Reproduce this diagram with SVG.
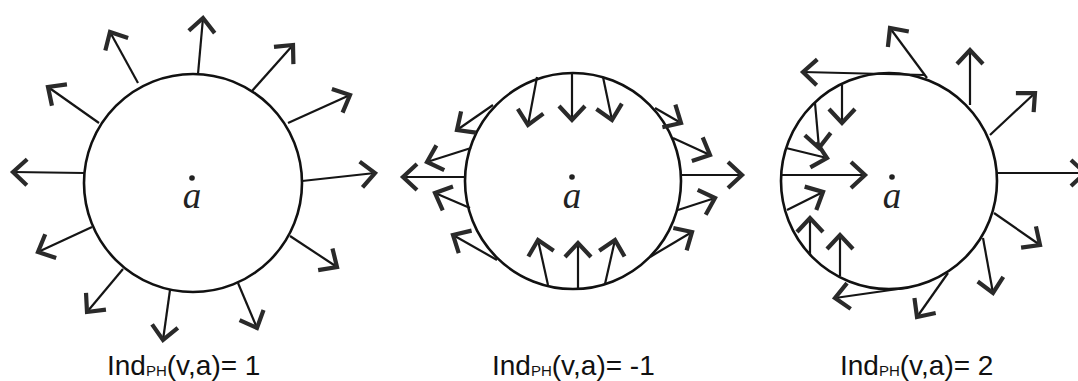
<svg xmlns="http://www.w3.org/2000/svg" width="1078" height="381" viewBox="0 0 1078 381">
<style>
.c{fill:none;stroke:#111;stroke-width:2.6}
.ar line{stroke:#151515;stroke-width:2.2;marker-end:url(#ah)}
.dot{fill:#222}
.pt{font-family:"Liberation Serif",serif;font-style:italic;font-size:37px;fill:#222;text-anchor:middle}
.lb{font-family:"Liberation Sans","DejaVu Sans",sans-serif;font-size:28px;fill:#111}
.sb{font-size:15px}
</style>
<defs>
<marker id="ah" markerUnits="userSpaceOnUse" orient="auto" markerWidth="50" markerHeight="50" viewBox="-25 -25 50 50" refX="0" refY="0">
<path d="M-14,-13 L0,0 L-14,13" fill="none" stroke="#2a2a2a" stroke-width="4.2"/>
</marker>
</defs>
<rect width="1078" height="381" fill="#fff"/>

<g id="node-panel1">
<circle class="c" cx="193" cy="183" r="109"/>
<circle class="dot" cx="192" cy="178" r="2.8"/>
<text class="pt" x="192" y="208">a</text>
</g>
<g id="node-panel2">
<circle class="c" cx="573" cy="181" r="108"/>
<circle class="dot" cx="572" cy="177" r="2.8"/>
<text class="pt" x="572" y="208">a</text>
</g>
<g id="node-panel3">
<circle class="c" cx="889" cy="181" r="108"/>
<circle class="dot" cx="892" cy="177" r="2.8"/>
<text class="pt" x="892" y="208">a</text>
</g>

<g id="connectors" class="ar">
<!-- panel 1 -->
<line x1="138" y1="83" x2="110" y2="32"/>
<line x1="198" y1="74" x2="203" y2="18"/>
<line x1="252" y1="91" x2="293" y2="45"/>
<line x1="288" y1="123" x2="350" y2="95"/>
<line x1="302" y1="181" x2="375" y2="173"/>
<line x1="290" y1="236" x2="337" y2="267"/>
<line x1="238" y1="283" x2="257" y2="328"/>
<line x1="170" y1="290" x2="163" y2="340"/>
<line x1="123" y1="269" x2="87" y2="312"/>
<line x1="92" y1="227" x2="38" y2="252"/>
<line x1="84" y1="173" x2="13" y2="172"/>
<line x1="99" y1="123" x2="48" y2="87"/>
<!-- panel 2 -->
<line x1="537" y1="77" x2="528" y2="125"/>
<line x1="572" y1="73" x2="572" y2="120"/>
<line x1="603" y1="77" x2="612" y2="120"/>
<line x1="548" y1="285" x2="538" y2="240"/>
<line x1="578" y1="289" x2="578" y2="243"/>
<line x1="605" y1="284" x2="615" y2="240"/>
<line x1="493" y1="105" x2="457" y2="130"/>
<line x1="471" y1="148" x2="427" y2="162"/>
<line x1="465" y1="177" x2="403" y2="177"/>
<line x1="470" y1="208" x2="435" y2="193"/>
<line x1="497" y1="260" x2="453" y2="235"/>
<line x1="655" y1="108" x2="681" y2="123"/>
<line x1="673" y1="138" x2="710" y2="155"/>
<line x1="681" y1="175" x2="742" y2="175"/>
<line x1="678" y1="210" x2="715" y2="198"/>
<line x1="650" y1="257" x2="692" y2="232"/>
<!-- panel 3 -->
<line x1="927" y1="78" x2="890" y2="28"/>
<line x1="925" y1="75" x2="803" y2="72"/>
<line x1="970" y1="105" x2="970" y2="50"/>
<line x1="990" y1="135" x2="1035" y2="93"/>
<line x1="997" y1="173" x2="1085" y2="173"/>
<line x1="994" y1="213" x2="1040" y2="245"/>
<line x1="983" y1="238" x2="993" y2="293"/>
<line x1="948" y1="273" x2="917" y2="317"/>
<line x1="905" y1="288" x2="835" y2="298"/>
<line x1="842" y1="85" x2="842" y2="123"/>
<line x1="815" y1="103" x2="819" y2="148"/>
<line x1="786" y1="148" x2="827" y2="158"/>
<line x1="782" y1="175" x2="865" y2="175"/>
<line x1="787" y1="210" x2="823" y2="192"/>
<line x1="810" y1="254" x2="810" y2="218"/>
<line x1="840" y1="276" x2="840" y2="235"/>
</g>

<g id="labels">
<text class="lb" x="107" y="375">Ind<tspan class="sb" dy="1">PH</tspan><tspan dy="-1">(v,a)= 1</tspan></text>
<text class="lb" x="492" y="375">Ind<tspan class="sb" dy="1">PH</tspan><tspan dy="-1">(v,a)= -1</tspan></text>
<text class="lb" x="840" y="375">Ind<tspan class="sb" dy="1">PH</tspan><tspan dy="-1">(v,a)= 2</tspan></text>
</g>
</svg>
